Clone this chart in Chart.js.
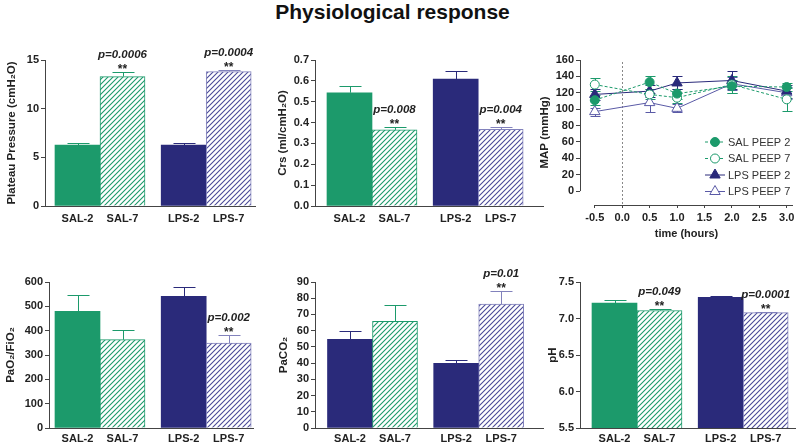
<!DOCTYPE html>
<html>
<head>
<meta charset="utf-8">
<script src="https://cdn.jsdelivr.net/npm/chart.js@4.4.0/dist/chart.umd.min.js"></script>
<style>
body { margin:0; background:#fff; width:800px; height:443px; overflow:hidden; position:relative; font-family:"Liberation Sans", Arial, sans-serif; }
#title { position:absolute; left:0; top:0; width:785px; text-align:center; font-weight:bold; font-size:21px; line-height:24px; color:#111; }
canvas { position:absolute; }
</style>
</head>
<body>
<div id="title">Physiological response</div>
<canvas id="plateau"></canvas>
<canvas id="crs"></canvas>
<canvas id="map"></canvas>
<canvas id="pafi"></canvas>
<canvas id="paco2"></canvas>
<canvas id="ph"></canvas>
<script>
// values (mean, error = SEM shown as bar)
var groups = ['SAL-2', 'SAL-7', 'LPS-2', 'LPS-7'];

var plateauMean = [6.25, 13.3, 6.25, 13.8];
var plateauErr = [0.25, 0.45, 0.25, 0.2];
var plateauNotes = [[1, 'p=0.0006'], [3, 'p=0.0004']];
var plateauTicks = [0, 5, 10, 15];

var crsMean = [0.543, 0.365, 0.609, 0.368];
var crsErr = [0.03, 0.012, 0.04, 0.01];
var crsNotes = [[1, 'p=0.008'], [3, 'p=0.004']];
var crsTicks = [0, 0.1, 0.2, 0.3, 0.4, 0.5, 0.6, 0.7];

var pafiMean = [479, 363, 541, 349];
var pafiErr = [66, 38, 37, 32];
var pafiNotes = [[3, 'p=0.002']];
var pafiTicks = [0, 100, 200, 300, 400, 500, 600];

var paco2Mean = [54.7, 65.8, 39.9, 76.4];
var paco2Err = [5.3, 9.8, 1.8, 8.1];
var paco2Notes = [[3, 'p=0.01']];
var paco2Ticks = [0, 10, 20, 30, 40, 50, 60, 70, 80, 90];

var phMean = [7.21, 7.11, 7.29, 7.08];
var phErr = [0.05, 0.02, 0.015, 0.01];
var phNotes = [[1, 'p=0.049'], [3, 'p=0.0001']];
var phTicks = [5.5, 6.0, 6.5, 7.0, 7.5];

var mapSeries = ['SAL PEEP 2', 'SAL PEEP 7', 'LPS PEEP 2', 'LPS PEEP 7'];
var mapHours = [-0.5, 0.5, 1.0, 2.0, 3.0];
var mapSal2 = [111, 133, 119, 128, 127];
var mapSal2Err = [6, 8, 6, 8, 5];
var mapSal7 = [130, 118, 114, 130, 112];
var mapSal7Err = [8, 6, 6, 10, 14];
var mapLps2 = [118, 122, 132, 135, 122];
var mapLps2Err = [7, 7, 8, 11, 8];
var mapLps7 = [97, 108, 101, 131, 120];
var mapLps7Err = [5, 12, 5, 8, 7];
var mapTicks = [0, 20, 40, 60, 80, 100, 120, 140, 160];
var hourTicks = [-0.5, 0, 0.5, 1.0, 1.5, 2.0, 2.5, 3.0];

// styles
var GREEN = '#1c9a6b';
var NAVY = '#2a2a7a';
var NAVY_HATCH = '#4a4a98';
var NAVY_EDGE = '#8282bc';
var NAVY_LIGHT = '#5a5aa6';
var AXIS = '#444';
var TXT = '#222';
var FONT = '"Liberation Sans", Arial, sans-serif';

var slots = [0, 1, 2.36, 3.36];   // bar centres in bar widths, with a gap between SAL and LPS
var BAR_PX = 45;

function hatch(ctx, color) {
    var c = document.createElement('canvas');
    c.width = 5; c.height = 5;
    var g = c.getContext('2d');
    g.fillStyle = '#fff';
    g.fillRect(0, 0, 5, 5);
    g.strokeStyle = color;
    g.lineWidth = 1.1;
    g.beginPath();
    g.moveTo(-1, 6); g.lineTo(6, -1);
    g.moveTo(-1, 1); g.lineTo(1, -1);
    g.moveTo(4, 6); g.lineTo(6, 4);
    g.stroke();
    return ctx.createPattern(c, 'repeat');
}

var errorBars = {
    id: 'errorBars',
    beforeDatasetsDraw: function(chart) {
        var ctx = chart.ctx, ys = chart.scales.y;
        chart.data.datasets.forEach(function(ds, d) {
            if (!ds.errors) return;
            var meta = chart.getDatasetMeta(d);
            meta.data.forEach(function(el, i) {
                var v = ds.data[i].y, e = ds.errors[i];
                var x = Math.round(el.x) + 0.5;
                var top = Math.round(ys.getPixelForValue(v + e)) + 0.5;
                var bot = ds.errorBoth ? Math.round(ys.getPixelForValue(v - e)) + 0.5 : el.y;
                ctx.save();
                ctx.strokeStyle = Array.isArray(ds.errorColor) ? ds.errorColor[i] : ds.errorColor;
                ctx.lineWidth = 1;
                ctx.beginPath();
                ctx.moveTo(x, bot); ctx.lineTo(x, top);
                ctx.moveTo(x - ds.capHalf, top); ctx.lineTo(x + ds.capHalf, top);
                if (ds.errorBoth) { ctx.moveTo(x - ds.capHalf, bot); ctx.lineTo(x + ds.capHalf, bot); }
                ctx.stroke();
                ctx.restore();
            });
        });
    }
};

function notesPlugin(notes) {
    return {
        id: 'notes',
        afterDatasetsDraw: function(chart) {
            var ctx = chart.ctx, ds = chart.data.datasets[0], meta = chart.getDatasetMeta(0), ys = chart.scales.y;
            ctx.save();
            ctx.fillStyle = TXT;
            ctx.textAlign = 'center';
            ctx.textBaseline = 'alphabetic';
            notes.forEach(function(n) {
                var i = n[0], el = meta.data[i];
                var top = ys.getPixelForValue(ds.data[i].y + ds.errors[i]);
                ctx.font = 'bold 12px ' + FONT;
                ctx.fillText('**', el.x, top + 1);
                ctx.font = 'italic bold 11.5px ' + FONT;
                ctx.fillText(n[1], el.x, top - 14);
            });
            ctx.restore();
        }
    };
}

function place(id, box) {
    var cv = document.getElementById(id);
    cv.width = box.w; cv.height = box.h;
    cv.style.left = box.x + 'px';
    cv.style.top = box.y + 'px';
    return cv;
}

function barPanel(id, box, area, firstCentre, means, errs, colors, hatched, edges, yTicks, digits, yTitle, titlePad, notes, labelPad) {
    var cv = place(id, box);
    var ctx = cv.getContext('2d');
    var fills = colors.map(function(c, i) { return hatched[i] ? hatch(ctx, c) : c; });
    var xmin = (area.l - firstCentre) / BAR_PX;
    var xmax = xmin + (area.r - area.l) / BAR_PX;
    return new Chart(cv, {
        type: 'bar',
        data: {
            datasets: [{
                data: means.map(function(v, i) { return { x: slots[i], y: v }; }),
                backgroundColor: fills,
                borderColor: edges,
                borderWidth: hatched.map(function(h) { return h ? 1 : 0; }),
                barPercentage: 1,
                categoryPercentage: 1,
                errors: errs,
                errorColor: edges,
                capHalf: 11
            }]
        },
        options: {
            responsive: false,
            animation: false,
            layout: { padding: { left: 0, top: area.t - box.y, right: box.x + box.w - area.r, bottom: 0 } },
            plugins: { legend: { display: false }, tooltip: { enabled: false } },
            scales: {
                x: {
                    type: 'linear', min: xmin, max: xmax, offset: false,
                    afterBuildTicks: function(s) { s.ticks = slots.map(function(v) { return { value: v }; }); },
                    afterFit: function(s) { s.height = box.y + box.h - area.b; },
                    ticks: {
                        autoSkip: false, maxRotation: 0, padding: labelPad, color: TXT,
                        font: { family: FONT, size: 11, weight: 'bold' },
                        callback: function(v, i) { return groups[i]; }
                    },
                    grid: { display: false, drawTicks: false },
                    border: { color: AXIS, width: 1 }
                },
                y: {
                    min: yTicks[0], max: yTicks[yTicks.length - 1],
                    afterBuildTicks: function(s) { s.ticks = yTicks.map(function(v) { return { value: v }; }); },
                    afterFit: function(s) { s.width = area.l - box.x; },
                    ticks: {
                        padding: 2, color: TXT,
                        font: { family: FONT, size: 11, weight: 'bold' },
                        callback: function(v) { return v.toFixed(digits); }
                    },
                    grid: { drawOnChartArea: false, tickLength: 4, color: AXIS },
                    border: { color: AXIS, width: 1 },
                    title: { display: true, text: yTitle, color: TXT, padding: { top: titlePad, bottom: 0 }, font: { family: FONT, size: 11.5, weight: 'bold' } }
                }
            }
        },
        plugins: [errorBars, notesPlugin(notes)]
    });
}

barPanel('plateau', { x: 0, y: 30, w: 265, h: 200 }, { l: 45, t: 60, r: 255, b: 206 }, 77.5,
    plateauMean, plateauErr, [GREEN, GREEN, NAVY, NAVY_HATCH], [false, true, false, true],
    [GREEN, GREEN, NAVY, NAVY_EDGE], plateauTicks, 0, 'Plateau Pressure (cmH\u2082O)', 5, plateauNotes, 6);

barPanel('crs', { x: 270, y: 30, w: 275, h: 200 }, { l: 315, t: 60, r: 543, b: 206 }, 349.5,
    crsMean, crsErr, [GREEN, GREEN, NAVY, NAVY_HATCH], [false, true, false, true],
    [GREEN, GREEN, NAVY, NAVY_EDGE], crsTicks, 1, 'Crs (ml/cmH\u2082O)', 6, crsNotes, 6);

barPanel('pafi', { x: 0, y: 250, w: 265, h: 193 }, { l: 49, t: 282, r: 253, b: 428 }, 77.5,
    pafiMean, pafiErr, [GREEN, GREEN, NAVY, NAVY_HATCH], [false, true, false, true],
    [GREEN, GREEN, NAVY, NAVY_EDGE], pafiTicks, 0, 'PaO\u2082/FiO\u2082', 4, pafiNotes, 4);

barPanel('paco2', { x: 270, y: 250, w: 275, h: 193 }, { l: 315, t: 282, r: 543, b: 428 }, 350,
    paco2Mean, paco2Err, [NAVY, GREEN, NAVY, NAVY_HATCH], [false, true, false, true],
    [NAVY, GREEN, NAVY, NAVY_EDGE], paco2Ticks, 0, 'PaCO\u2082', 7, paco2Notes, 4);

barPanel('ph', { x: 530, y: 250, w: 270, h: 193 }, { l: 580, t: 282, r: 795, b: 428 }, 614.5,
    phMean, phErr, [GREEN, GREEN, NAVY, NAVY_HATCH], [false, true, false, true],
    [GREEN, GREEN, NAVY, NAVY_EDGE], phTicks, 1, 'pH', 16, phNotes, 4);

// MAP time course
function drawMarker(ctx, style, x, y, r) {
    ctx.beginPath();
    if (style === 'circle') {
        ctx.arc(x, y, r, 0, Math.PI * 2);
    } else {
        for (var k = 0; k < 3; k++) {
            var a = k * 2 * Math.PI / 3;
            var px = x + Math.sin(a) * r, py = y - Math.cos(a) * r;
            if (k === 0) ctx.moveTo(px, py); else ctx.lineTo(px, py);
        }
        ctx.closePath();
    }
    ctx.fill();
    ctx.stroke();
}

var mapAxes = {
    id: 'mapAxes',
    beforeDatasetsDraw: function(chart) {
        var ctx = chart.ctx, xs = chart.scales.x, ys = chart.scales.y, a = chart.chartArea;
        ctx.save();
        ctx.strokeStyle = AXIS;
        ctx.lineWidth = 1;
        ctx.beginPath();
        var lx = Math.round(a.left) + 0.5;
        ctx.moveTo(lx, ys.getPixelForValue(mapTicks[0]));
        ctx.lineTo(lx, ys.getPixelForValue(mapTicks[mapTicks.length - 1]));
        var by = Math.round(a.bottom) + 0.5;
        ctx.moveTo(xs.getPixelForValue(hourTicks[0]), by);
        ctx.lineTo(a.right, by);
        ctx.stroke();
        ctx.strokeStyle = '#888';
        ctx.setLineDash([2, 2]);
        ctx.beginPath();
        var zx = Math.round(xs.getPixelForValue(0)) + 0.5;
        ctx.moveTo(zx, a.top + 2);
        ctx.lineTo(zx, a.bottom);
        ctx.stroke();
        ctx.restore();
    },
    afterDraw: function(chart) {
        var ctx = chart.ctx, a = chart.chartArea;
        ctx.save();
        chart.data.datasets.forEach(function(ds, i) {
            var y = a.bottom - 63 + i * 16.5;
            ctx.strokeStyle = ds.borderColor;
            ctx.lineWidth = 1;
            ctx.setLineDash(ds.borderDash || []);
            ctx.beginPath();
            ctx.moveTo(a.right - 88, y);
            ctx.lineTo(a.right - 68, y);
            ctx.stroke();
            ctx.setLineDash([]);
            ctx.fillStyle = ds.pointBackgroundColor;
            ctx.strokeStyle = ds.pointBorderColor;
            drawMarker(ctx, ds.pointStyle, a.right - 78, y, ds.pointRadius);
            ctx.fillStyle = '#333';
            ctx.font = '11px ' + FONT;
            ctx.textAlign = 'left';
            ctx.textBaseline = 'middle';
            ctx.fillText(ds.label, a.right - 65, y + 0.5);
        });
        ctx.restore();
    }
};

function series(label, vals, errs, color, dashed, style, filled, radius) {
    return {
        label: label,
        data: mapHours.map(function(h, i) { return { x: h, y: vals[i] }; }),
        errors: errs,
        errorBoth: true,
        errorColor: color,
        capHalf: 5,
        borderColor: color,
        borderWidth: 1,
        borderDash: dashed ? [3, 2] : [],
        tension: 0,
        fill: false,
        pointStyle: style,
        pointRadius: radius,
        pointBorderWidth: 1,
        pointBackgroundColor: filled ? color : '#fff',
        pointBorderColor: color
    };
}

(function() {
    var box = { x: 530, y: 30, w: 270, h: 215 };
    var area = { l: 580, t: 60, r: 796, b: 205 };
    var cv = place('map', box);
    var hourPx = 55.6;
    var xmin = -0.5 - 15 / hourPx;
    var xmax = xmin + (area.r - area.l) / hourPx;
    new Chart(cv, {
        type: 'line',
        data: {
            datasets: [
                series(mapSeries[0], mapSal2, mapSal2Err, GREEN, true, 'circle', true, 4.5),
                series(mapSeries[1], mapSal7, mapSal7Err, GREEN, true, 'circle', false, 4.5),
                series(mapSeries[2], mapLps2, mapLps2Err, NAVY, false, 'triangle', true, 6),
                series(mapSeries[3], mapLps7, mapLps7Err, NAVY_LIGHT, false, 'triangle', false, 6)
            ]
        },
        options: {
            responsive: false,
            animation: false,
            layout: { padding: { left: 0, top: area.t - box.y, right: box.x + box.w - area.r, bottom: 0 } },
            plugins: { legend: { display: false }, tooltip: { enabled: false } },
            scales: {
                x: {
                    type: 'linear', min: xmin, max: xmax,
                    afterBuildTicks: function(s) { s.ticks = hourTicks.map(function(v) { return { value: v }; }); },
                    afterFit: function(s) { s.height = box.y + box.h - area.b; },
                    ticks: {
                        autoSkip: false, maxRotation: 0, padding: 3, color: TXT,
                        font: { family: FONT, size: 11, weight: 'bold' },
                        callback: function(v) { return v.toFixed(1); }
                    },
                    grid: { drawOnChartArea: false, tickLength: 3, color: AXIS },
                    border: { display: false },
                    title: { display: true, text: 'time (hours)', color: TXT, padding: { top: 0, bottom: 4 }, font: { family: FONT, size: 11, weight: 'bold' } }
                },
                y: {
                    min: -17, max: 160,
                    afterBuildTicks: function(s) { s.ticks = mapTicks.map(function(v) { return { value: v }; }); },
                    afterFit: function(s) { s.width = area.l - box.x; },
                    ticks: {
                        padding: 2, color: TXT,
                        font: { family: FONT, size: 11, weight: 'bold' },
                        callback: function(v) { return v.toFixed(0); }
                    },
                    grid: { drawOnChartArea: false, tickLength: 4, color: AXIS },
                    border: { display: false },
                    title: { display: true, text: 'MAP (mmHg)', color: TXT, padding: { top: 8, bottom: 0 }, font: { family: FONT, size: 11.5, weight: 'bold' } }
                }
            }
        },
        plugins: [mapAxes, errorBars]
    });
})();
</script>
</body>
</html>
